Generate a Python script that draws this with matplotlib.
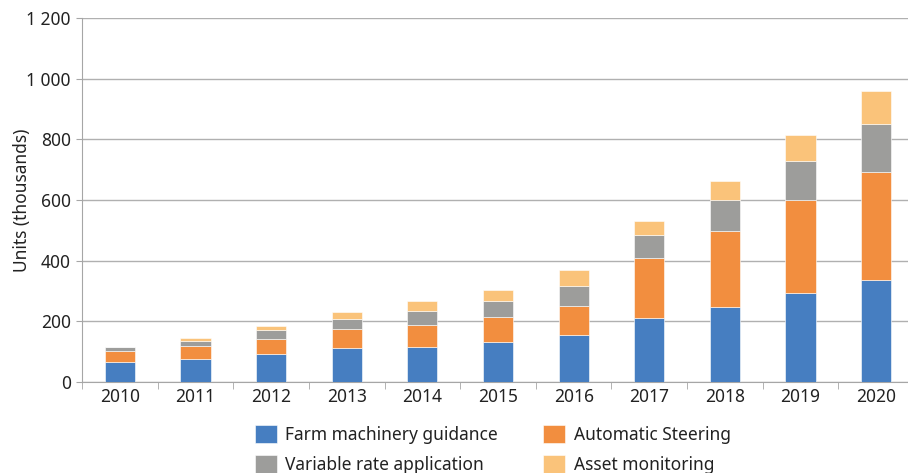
import matplotlib.pyplot as plt
import numpy as np

years = ["2010", "2011", "2012", "2013", "2014", "2015", "2016", "2017", "2018", "2019", "2020"]
guidance = [67, 77, 93, 111, 116, 132, 155, 210, 248, 294, 336]
steering = [35, 43, 50, 63, 72, 83, 97, 200, 251, 305, 355]
variable_rate = [12, 16, 29, 34, 46, 51, 66, 74, 100, 130, 160]
asset_monitoring = [2, 8, 13, 23, 32, 37, 51, 46, 64, 85, 109]

series = [
    ("Farm machinery guidance", guidance, "#467EC1"),
    ("Automatic Steering", steering, "#F28E3F"),
    ("Variable rate application", variable_rate, "#9D9D9B"),
    ("Asset monitoring", asset_monitoring, "#FAC37A"),
]

plt.rcParams["font.family"] = ["Noto Sans", "DejaVu Sans"]
plt.rcParams["font.size"] = 12.5

fig = plt.figure(figsize=(9.08, 4.73), dpi=100)
ax = fig.add_axes([82 / 908, 91 / 473, 832 / 908, 364 / 473])

x = np.arange(len(years))
bottom = np.zeros(len(years))
bars = {}
for name, vals, color in series:
    bars[name] = ax.bar(x, vals, 0.4, bottom=bottom, color=color,
                        edgecolor="white", linewidth=0.4, label=name, zorder=3)
    bottom += np.array(vals)

ax.set_xlim(-0.5, len(years) - 0.5)
ax.set_ylim(0, 1200)
ax.set_yticks(range(0, 1201, 200))
ax.set_yticklabels(["0", "200", "400", "600", "800", "1 000", "1 200"])
ax.set_xticks(x)
ax.set_xticklabels(years)
ax.set_xticks(np.arange(-0.5, len(years), 1), minor=True)
ax.tick_params(axis="x", which="major", length=0, pad=4)
ax.tick_params(axis="x", which="minor", length=5)
ax.tick_params(axis="y", length=4, pad=4)
ax.tick_params(axis="both", which="both", color="#A6A6A6", labelcolor="#222222")

ax.grid(axis="y", color="#B0B0B0", linewidth=1, zorder=0)
for s in ["top", "right"]:
    ax.spines[s].set_visible(False)
for s in ["left", "bottom"]:
    ax.spines[s].set_color("#A6A6A6")

ax.set_ylabel("Units (thousands)", color="#222222", labelpad=-3)

handles = [bars[series[i][0]] for i in (0, 2, 1, 3)]
labels = [series[i][0] for i in (0, 2, 1, 3)]
fig.legend(handles, labels, ncol=2, loc="upper left",
           bbox_to_anchor=(241 / 908, 1 - 411 / 473), frameon=False,
           handlelength=1.25, handleheight=1.25, handletextpad=0.5,
           columnspacing=2.6, labelspacing=0.65, borderpad=0.3,
           labelcolor="#222222")

fig.savefig("out.png", dpi=100)
